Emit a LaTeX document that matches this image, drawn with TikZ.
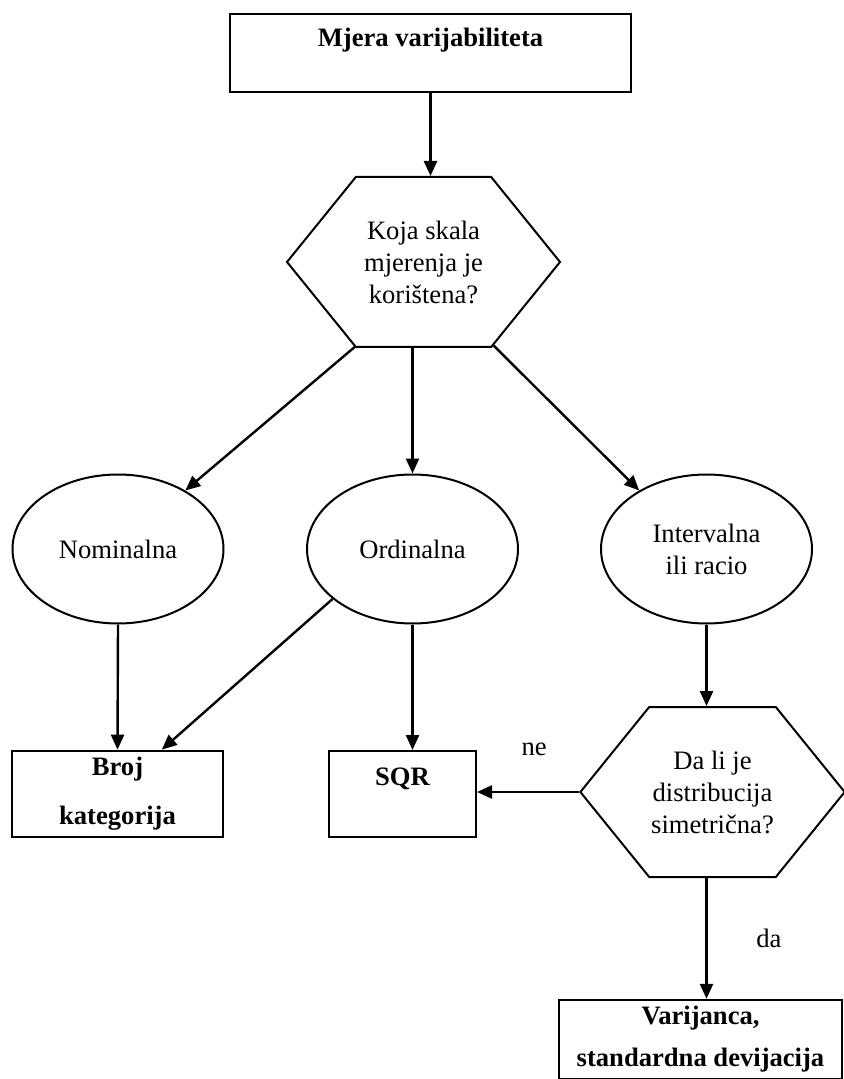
\documentclass[tikz,border=0pt]{standalone}
\usepackage{fontspec}
\setmainfont{Liberation Serif}
\usepackage{tikz}
\usetikzlibrary{
    arrows.meta,
    shapes.geometric,
    shapes.symbols
}
\newcommand{\txtfont}[1]{\fontsize{13.3}{#1}\selectfont}

\begin{document}
\begin{tikzpicture}[
    x=0.5pt, y=-0.5pt,
    every node/.style={font=\txtfont{16}},
    box/.style={rectangle, draw, line width=1pt, font=\txtfont{16}\bfseries, align=center},
    oval/.style={ellipse, draw, line width=1pt, minimum width=105.5pt, minimum height=74.5pt, align=center},
    hexa/.style={signal, signal to=east and west, signal pointer angle=102, draw, line width=1pt, inner sep=1pt, minimum height=85pt, align=center},
    arrow/.style={-{Triangle[length=7.5pt, width=6.5pt]}, line width=1.2pt}
]
\useasboundingbox (0,0) rectangle (843,1079);

% Start
\node[box, minimum width=200.5pt, minimum height=39pt, text height=9pt, text depth=15pt] (mjera) at (430.5,53) {Mjera varijabiliteta};

% Scale question
\node[hexa, minimum width=136.5pt] (skala) at (423.5,262) {Koja skala\\mjerenja je\\korištena?};

% Scales
\node[oval] (nom) at (118,549) {Nominalna};
\node[oval] (ord) at (412.5,549) {Ordinalna};
\node[oval] (int) at (706.5,549) {Intervalna\\ili racio};

% Symmetry question
\node[hexa, minimum width=130.5pt] (sim) at (712.5,792) {Da li je\\distribucija\\simetrična?};

% Results
\node[box, minimum width=105.5pt, minimum height=43pt, font=\txtfont{24.5}\bfseries] (broj) at (117.5,794) {Broj\\kategorija};
\node[box, minimum width=73.5pt, minimum height=43pt, text height=9pt, text depth=18pt] (sqr) at (402.5,794) {SQR};
\node[box, minimum width=141.5pt, minimum height=39.5pt, font=\txtfont{21}\bfseries] (var) at (700.5,1039.5) {Varijanca,\\standardna devijacija};

% Flow
\draw[arrow] (mjera.south) -- (mjera.south |- skala.north);
\draw[arrow] (skala.-129) -- (nom.41);
\draw[arrow] (skala.south -| ord.north) -- (ord.north);
\draw[arrow] (skala.-50) -- (int.139);
\draw[arrow] (nom.south) -- (broj.north);
\draw[arrow] (ord.-148) -- (broj.45);
\draw[arrow] (ord.south) -- (ord.south |- sqr.north);
\draw[arrow] (int.south) -- (int.south |- sim.north);
\draw[arrow] (sim.west) -- (sim.west -| sqr.east) node[midway, above=14pt, xshift=3pt] (ne) {ne};
\draw[arrow] (sim.south -| int.south) -- (int.south |- var.north) node[midway, right=21pt] (da) {da};

\end{tikzpicture}
\end{document}
